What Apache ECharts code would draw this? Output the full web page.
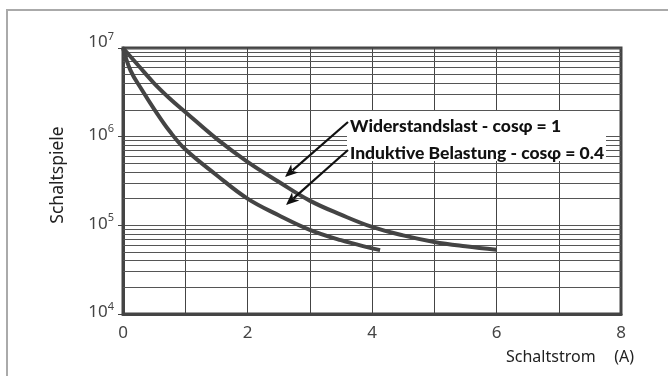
<!DOCTYPE html>
<html><head><meta charset="utf-8">
<script src="https://cdn.jsdelivr.net/npm/echarts@6/dist/echarts.min.js"></script>
<style>html,body{margin:0;padding:0;background:#fff}#c{width:668px;height:376px}</style>
</head><body><div id="c"></div>
<script>
// ---- data ----
const resistiveX = [0, 0.25, 0.5, 0.75, 1, 1.5, 2, 2.5, 3, 3.5, 4, 4.5, 5, 5.5, 6];
const resistiveY = [1e7, 6.3e6, 4.0e6, 2.7e6, 1.9e6, 9.5e5, 5.2e5, 3.1e5, 1.9e5, 1.32e5, 9.6e4, 7.7e4, 6.5e4, 5.8e4, 5.3e4];
const inductiveX = [0, 0.12, 0.3, 0.5, 0.75, 1, 1.5, 2, 2.5, 3, 3.5, 4, 4.13];
const inductiveY = [1e7, 5.6e6, 3.4e6, 2.05e6, 1.15e6, 7.2e5, 3.7e5, 2.0e5, 1.3e5, 8.9e4, 6.8e4, 5.5e4, 5.25e4];
const seriesNames = ['Widerstandslast - cosφ = 1', 'Induktive Belastung - cosφ = 0.4'];
const xTickLabels = ['0', '2', '4', '6', '8'];
const yDecadeExponents = [4, 5, 6, 7];
const minorMultipliers = [2, 3, 4, 5, 6, 7, 8, 9];
const xAxisTitle = 'Schaltstrom';
const xAxisUnit = '(A)';
const yAxisTitle = 'Schaltspiele';

const F = 'Noto Sans';
const minorLines = [];
yDecadeExponents.slice(0, -1).forEach(e => minorMultipliers.forEach(m => minorLines.push(m * Math.pow(10, e))));

function arrow(x1, y1, x2, y2) {
  const dx = x2 - x1, dy = y2 - y1, L = Math.hypot(dx, dy), ux = dx / L, uy = dy / L;
  const hl = 13, hw = 5.5;
  const bx = x2 - ux * hl, by = y2 - uy * hl;
  return [
    {type: 'line', z: 12, silent: true, shape: {x1: x1, y1: y1, x2: bx + ux * 3, y2: by + uy * 3}, style: {stroke: '#111', lineWidth: 2.2}},
    {type: 'polygon', z: 12, silent: true, shape: {points: [[x2, y2], [bx - uy * hw, by + ux * hw], [x2 - ux * hl * 0.72, y2 - uy * hl * 0.72], [bx + uy * hw, by - ux * hw]]}, style: {fill: '#111'}}
  ];
}

const chart = echarts.init(document.getElementById('c'), null, {renderer: 'canvas'});
chart.setOption({
  animation: false,
  backgroundColor: '#fff',
  grid: {left: 123, top: 48, width: 498, height: 266, show: true, borderColor: '#444', borderWidth: 3, backgroundColor: 'transparent'},
  xAxis: {
    type: 'value', min: 0, max: 8, interval: 1,
    axisLine: {show: true, lineStyle: {color: '#444', width: 3}},
    axisTick: {show: false},
    splitLine: {show: true, lineStyle: {color: '#444', width: 1}},
    axisLabel: {
      color: '#444', fontSize: 17, fontFamily: F, margin: 11,
      formatter: v => (v % 2 === 0 ? xTickLabels[v / 2] : '')
    }
  },
  yAxis: {
    type: 'log', logBase: 10, min: 1e4, max: 1e7,
    axisLine: {show: true, lineStyle: {color: '#444', width: 3}},
    axisTick: {show: true, length: 5, lineStyle: {color: '#444'}},
    splitLine: {show: true, lineStyle: {color: '#555', width: 1}},
    axisLabel: {
      margin: 9,
      formatter: v => {
        const e = Math.round(Math.log10(v));
        return e === 7 ? '{t|10}{ts|' + e + '}' : '{b|10}{s|' + e + '}';
      },
      rich: {
        b: {fontSize: 17, color: '#444', fontFamily: F, padding: [0, 0, 3, 0]},
        s: {fontSize: 11, color: '#444', fontFamily: F, padding: [0, 0, 15, 0]},
        t: {fontSize: 17, color: '#444', fontFamily: F, padding: [0, 0, 11, 0]},
        ts: {fontSize: 11, color: '#444', fontFamily: F, padding: [0, 0, 23, 0]}
      }
    }
  },
  series: [
    {
      type: 'line', z: 1, data: [[0, 1e4]], symbol: 'none', lineStyle: {width: 0},
      markLine: {
        silent: true, symbol: ['none', 'none'], label: {show: false},
        lineStyle: {color: '#555', width: 1, type: 'solid'},
        data: minorLines.map(v => ({yAxis: v}))
      }
    },
    {
      name: seriesNames[0], type: 'line', z: 5, smooth: 0.4, symbol: 'none',
      lineStyle: {color: '#444', width: 4},
      data: resistiveX.map((x, i) => [x, resistiveY[i]])
    },
    {
      name: seriesNames[1], type: 'line', z: 5, smooth: 0.4, symbol: 'none',
      lineStyle: {color: '#444', width: 4},
      data: inductiveX.map((x, i) => [x, inductiveY[i]])
    }
  ],
  graphic: [
    {type: 'rect', z: 0, silent: true, shape: {x: 7, y: 10, width: 720, height: 420}, style: {fill: 'none', stroke: '#aaa', lineWidth: 2}},
    {type: 'rect', z: 10, silent: true, shape: {x: 347, y: 111, width: 259, height: 50}, style: {fill: '#fff'}},
    {type: 'text', z: 11, silent: true, x: 350, y: 126, style: {text: seriesNames[0], font: '900 17.5px Lato', fill: '#111', verticalAlign: 'middle'}},
    {type: 'text', z: 11, silent: true, x: 350, y: 153, style: {text: seriesNames[1], font: '900 17.5px Lato', fill: '#111', verticalAlign: 'middle'}},
    ...arrow(348, 122, 285, 177),
    ...arrow(348, 150, 286, 205),
    {type: 'text', z: 11, silent: true, x: 58, y: 175, rotation: Math.PI / 2, style: {text: yAxisTitle, font: '17.5px "Noto Sans"', fill: '#222', align: 'center', verticalAlign: 'middle'}},
    {type: 'text', z: 11, silent: true, x: 506, y: 357, style: {text: xAxisTitle, font: '16px "Noto Sans"', fill: '#222', verticalAlign: 'middle'}},
    {type: 'text', z: 11, silent: true, x: 634, y: 357, style: {text: xAxisUnit, font: '16px "Noto Sans"', fill: '#222', align: 'right', verticalAlign: 'middle'}}
  ]
});
</script>
</body></html>
